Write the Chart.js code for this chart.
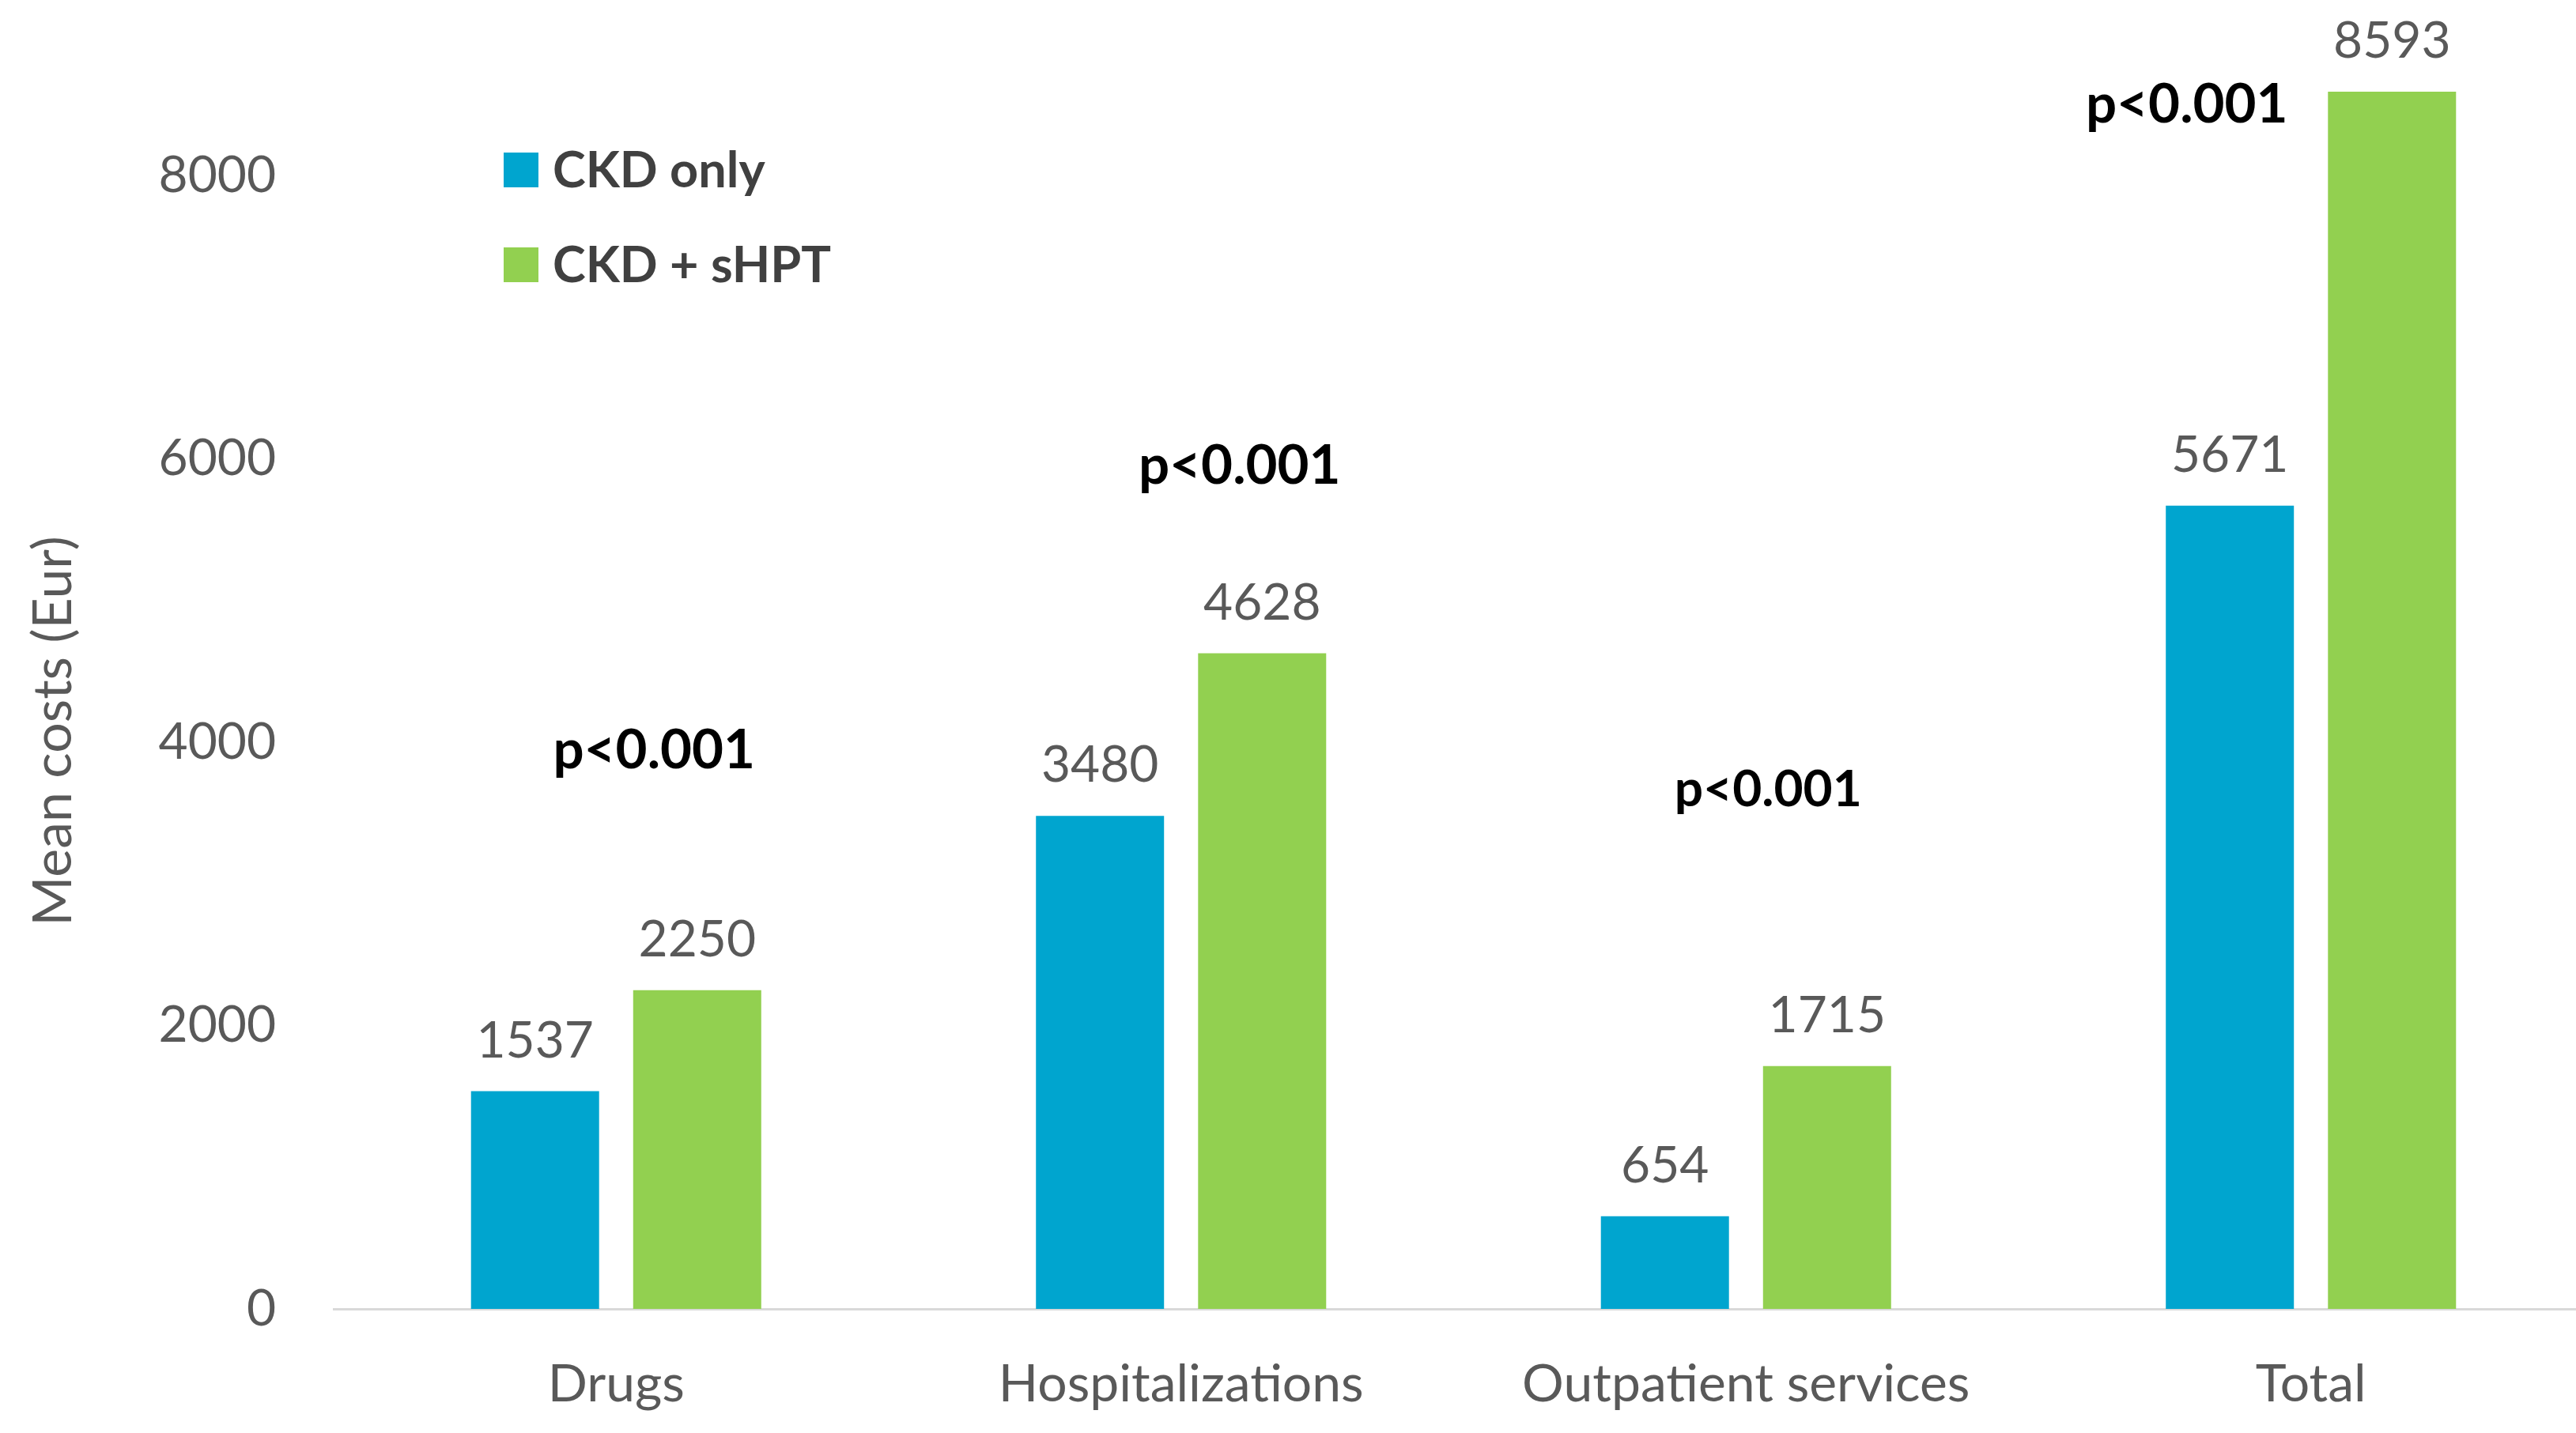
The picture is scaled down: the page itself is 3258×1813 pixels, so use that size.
<!DOCTYPE html>
<html>
<head>
<meta charset="utf-8">
<script src="https://cdn.jsdelivr.net/npm/chart.js@4.4.1/dist/chart.umd.min.js"></script>
<style>
  html, body { margin: 0; padding: 0; background: #fff; overflow: hidden; }
  #wrap { width: 3290px; height: 1813px; }
</style>
</head>
<body>
<div id="wrap"><canvas id="costChart" width="3290" height="1813"></canvas></div>
<script>
// Data
const categories = ['Drugs', 'Hospitalizations', 'Outpatient services', 'Total'];
const seriesNames = ['CKD only', 'CKD + sHPT'];
const ckdOnly = [1537, 3480, 654, 5671];
const ckdShpt = [2250, 4628, 1715, 8593];
const yTicks = [0, 2000, 4000, 6000, 8000];
const pValues = ['p<0.001', 'p<0.001', 'p<0.001', 'p<0.001'];
const yTitle = 'Mean costs (Eur)';

// where the p-value notes sit: x shift (px) from the category centre, y in axis units
const pShiftX = [48, 74, 28, -157];
const pLevelY = [3956, 5964, 3677, 8514];
const pFontSize = [69, 69, 64, 69];

const colors = ['#00A5CF', '#92D050'];
const textGrey = '#595959';

// value labels, p-values, legend and axis title drawn on top
const annotations = {
  id: 'annotations',
  afterDatasetsDraw(chart) {
    const ctx = chart.ctx;
    const xScale = chart.scales.x;
    const yScale = chart.scales.y;
    ctx.save();

    // numbers above the bars
    ctx.font = '64px Lato';
    ctx.fillStyle = textGrey;
    ctx.textAlign = 'center';
    ctx.textBaseline = 'alphabetic';
    chart.data.datasets.forEach((ds, i) => {
      chart.getDatasetMeta(i).data.forEach((bar, j) => {
        ctx.fillText(ds.data[j], bar.x, bar.y - 43);
      });
    });

    // p-values
    ctx.fillStyle = '#000';
    pValues.forEach((txt, j) => {
      const fs = pFontSize[j];
      ctx.font = 'bold ' + fs + 'px Lato';
      const x = xScale.getPixelForValue(j) + pShiftX[j];
      const y = yScale.getPixelForValue(pLevelY[j]) + fs * 0.36;
      ctx.fillText(txt, x, y);
    });

    // legend inside the plot
    ctx.textAlign = 'left';
    ctx.font = 'bold 63px Lato';
    const rows = [215, 335];
    chart.data.datasets.forEach((ds, i) => {
      ctx.fillStyle = ds.backgroundColor;
      ctx.fillRect(637, rows[i] - 22, 44, 44);
      ctx.fillStyle = '#404040';
      ctx.fillText(ds.label, 699, rows[i] + 22);
    });

    // y axis title
    ctx.translate(90, 925);
    ctx.rotate(-Math.PI / 2);
    ctx.textAlign = 'center';
    ctx.font = '68px Lato';
    ctx.fillStyle = textGrey;
    ctx.fillText(yTitle, 0, 0);

    ctx.restore();
  }
};

const myChart = new Chart(document.getElementById('costChart'), {
  type: 'bar',
  data: {
    labels: categories,
    datasets: [
      { label: seriesNames[0], data: ckdOnly, backgroundColor: colors[0], categoryPercentage: 0.574, barPercentage: 0.79 },
      { label: seriesNames[1], data: ckdShpt, backgroundColor: colors[1], categoryPercentage: 0.574, barPercentage: 0.79 }
    ]
  },
  options: {
    responsive: false,
    animation: false,
    devicePixelRatio: 1,
    layout: { padding: { top: 43, right: 10, bottom: 0, left: 0 } },
    plugins: {
      legend: { display: false },
      tooltip: { enabled: false }
    },
    scales: {
      x: {
        grid: { display: false, drawTicks: false },
        border: { display: true, color: '#D9D9D9', width: 3 },
        ticks: {
          font: { family: 'Lato', size: 66 },
          color: textGrey,
          padding: 56,
          maxRotation: 0,
          autoSkip: false
        },
        afterFit: s => {
          s.height = 157;
          s.paddingLeft = 0;
          s.paddingRight = 0;
        }
      },
      y: {
        min: 0,
        max: 9000,
        grid: { display: false, drawTicks: false },
        border: { display: false },
        afterBuildTicks: s => { s.ticks = yTicks.map(v => ({ value: v })); },
        ticks: {
          font: { family: 'Lato', size: 64 },
          color: textGrey,
          padding: 73,
          callback: v => String(v)
        },
        afterFit: s => {
          s.width = 422;
          s.paddingTop = 0;
          s.paddingBottom = 0;
        }
      }
    }
  },
  plugins: [annotations]
});
</script>
</body>
</html>
